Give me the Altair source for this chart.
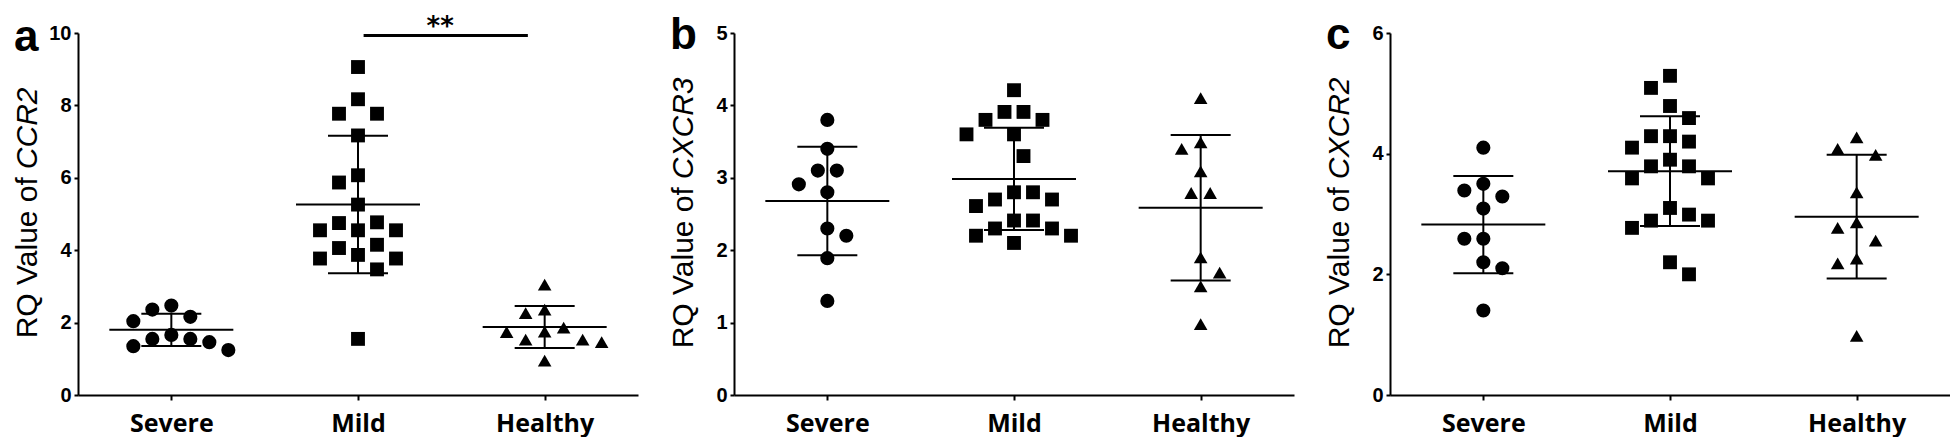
import altair as alt
import pandas as pd

# ---------------- data ----------------
categories = ["Severe", "Mild", "Healthy"]
shapes = ["circle", "square", "triangle-up"]

ccr2_severe = [2.47, 2.36, 2.16, 2.04, 1.66, 1.55, 1.55, 1.46, 1.35, 1.24]
ccr2_mild = [9.06, 8.17, 7.77, 7.77, 7.17, 6.07, 5.87, 5.26, 4.77, 4.75,
             4.55, 4.55, 4.55, 4.15, 4.06, 3.87, 3.77, 3.77, 3.47, 1.55]
ccr2_healthy = [3.05, 2.36, 2.26, 1.86, 1.75, 1.74, 1.53, 1.53, 1.46, 0.95]
ccr2_mean = [1.80, 5.26, 1.88]
ccr2_sd = [0.445, 1.90, 0.58]

cxcr3_severe = [3.80, 3.40, 3.10, 3.10, 2.91, 2.80, 2.30, 2.20, 1.89, 1.30]
cxcr3_mild = [4.21, 3.91, 3.91, 3.80, 3.80, 3.60, 3.60, 3.30, 2.80, 2.80,
              2.70, 2.70, 2.61, 2.41, 2.41, 2.30, 2.30, 2.20, 2.20, 2.10]
cxcr3_healthy = [4.10, 3.49, 3.40, 3.09, 2.79, 2.79, 1.90, 1.69, 1.50, 0.98]
cxcr3_mean = [2.68, 2.985, 2.585]
cxcr3_sd = [0.75, 0.705, 1.005]

cxcr2_severe = [4.10, 3.50, 3.39, 3.29, 3.09, 2.59, 2.59, 2.20, 2.10, 1.40]
cxcr2_mild = [5.29, 5.09, 4.79, 4.59, 4.29, 4.29, 4.20, 4.10, 3.90, 3.79,
              3.79, 3.59, 3.59, 3.10, 2.99, 2.89, 2.89, 2.77, 2.20, 2.00]
cxcr2_healthy = [4.27, 4.08, 3.98, 3.36, 2.86, 2.77, 2.56, 2.26, 2.18, 0.98]
cxcr2_mean = [2.825, 3.71, 2.955]
cxcr2_sd = [0.805, 0.91, 1.025]

sig_text = "**"

# ---------------- layout / style ----------------
W, H = 560, 362
SPACING = 96
BLACK = "#000000"
MARK_SIZES = [200, 185, 215]
SIG = dict(x1=2.03, x2=2.91, y=9.93, xt=2.44)
LETTER_X = -64
TITLE_X = -41

ARIAL = {"R": .722, "Q": .778, " ": .278, "V": .667, "a": .556, "l": .222,
         "u": .556, "e": .556, "o": .556, "f": .278, "C": .722, "X": .667,
         "2": .556, "3": .556}


def text_w(s, size):
    return sum(ARIAL.get(ch, .556) for ch in s) * size


def swarm(values, px_per_unit, sx=19.0, sy=22.0, step=9.5):
    order = sorted(range(len(values)), key=lambda i: -values[i])
    placed = []
    offs = [0.0] * len(values)
    for i in order:
        y = values[i] * px_per_unit
        bal = sum(p[0] for p in placed)
        cands = [0.0]
        for m in range(1, 40):
            pair = [-m * step, m * step]
            if bal < 0:
                pair.reverse()
            cands += pair
        chosen = cands[-1]
        for dx in cands:
            if all(((dx - px) / sx) ** 2 + ((y - py) / sy) ** 2 >= 1.0 for px, py in placed):
                chosen = dx
                break
        placed.append((chosen, y))
        offs[i] = chosen
    return offs


def panel(letter, gene, ymax, ystep, groups, means, sds, letter_y, sig=False):
    pxu_y = H / ymax
    pxu_x = W / 3.0
    rows = []
    for gi, (cat, vals) in enumerate(zip(categories, groups)):
        offs = swarm(vals, pxu_y)
        for v, o in zip(vals, offs):
            rows.append({"cat": cat, "x": gi + 1 + o / pxu_x, "v": v})
    pts = pd.DataFrame(rows)

    stats = pd.DataFrame({
        "cat": categories,
        "x": [1, 2, 3],
        "mean": means,
        "lo": [m - s for m, s in zip(means, sds)],
        "hi": [m + s for m, s in zip(means, sds)],
    })
    caps = pd.concat([
        stats[["x", "lo"]].rename(columns={"lo": "v"}),
        stats[["x", "hi"]].rename(columns={"hi": "v"}),
    ])

    label_expr = "[" + ",".join(["''"] + ["'%s'" % c for c in categories]) + "][datum.value]"
    xaxis = alt.Axis(values=[1, 2, 3], labelExpr=label_expr, title=None, grid=False,
                     tickSize=5, tickWidth=2, tickColor=BLACK, domainWidth=2,
                     domainColor=BLACK, labelFont="Open Sans", labelFontWeight="bold",
                     labelFontSize=25, labelColor=BLACK, labelPadding=11, labelAngle=0,
                     labelFlush=False)
    yaxis = alt.Axis(values=list(range(0, ymax + 1, ystep)), title=None, grid=False,
                     tickSize=4, tickWidth=2, tickColor=BLACK, domainWidth=2,
                     domainColor=BLACK, labelFont="Liberation Sans", labelFontWeight="bold",
                     labelFontSize=20, labelColor=BLACK, labelPadding=3)
    xs = alt.Scale(domain=[0.5, 3.5], nice=False, zero=False)
    ys = alt.Scale(domain=[0, ymax], nice=False)

    def X(f):
        return alt.X(f + ":Q", scale=xs, axis=xaxis)

    def Y(f):
        return alt.Y(f + ":Q", scale=ys, axis=yaxis)

    points = alt.Chart(pts).mark_point(filled=True, opacity=1, color=BLACK, strokeWidth=0).encode(
        x=X("x"), y=Y("v"),
        shape=alt.Shape("cat:N", scale=alt.Scale(domain=categories, range=shapes), legend=None),
        size=alt.Size("cat:N", scale=alt.Scale(domain=categories, range=MARK_SIZES), legend=None),
    )
    vline = alt.Chart(stats).mark_rule(color=BLACK, strokeWidth=2).encode(
        x=X("x"), y=Y("lo"), y2="hi:Q")
    mean_t = alt.Chart(stats).mark_tick(orient="horizontal", size=124, thickness=2,
                                         color=BLACK, opacity=1).encode(x=X("x"), y=Y("mean"))
    cap_t = alt.Chart(caps).mark_tick(orient="horizontal", size=60, thickness=2,
                                       color=BLACK, opacity=1).encode(x=X("x"), y=Y("v"))

    # Axis title with italic gene name
    prefix = "RQ Value of"
    fs = 30
    gap = 8
    w1 = text_w(prefix, fs)
    w2 = text_w(gene, fs)
    total = w1 + gap + w2
    center = H / 2.0
    junction = center + total / 2.0 - w1 - gap / 2.0
    t1 = alt.Chart(pd.DataFrame({"t": [prefix]})).mark_text(
        angle=270, align="right", baseline="alphabetic",
        font="Liberation Sans", fontSize=fs, color=BLACK).encode(
        x=alt.value(TITLE_X), y=alt.value(junction + gap / 2.0), text="t:N")
    t2 = alt.Chart(pd.DataFrame({"t": [gene]})).mark_text(
        angle=270, align="left", baseline="alphabetic", font="Liberation Sans",
        fontSize=fs, fontStyle="italic", color=BLACK).encode(
        x=alt.value(TITLE_X), y=alt.value(junction - gap / 2.0), text="t:N")
    lt = alt.Chart(pd.DataFrame({"t": [letter]})).mark_text(
        align="left", baseline="alphabetic", font="Liberation Sans", fontWeight="bold",
        fontSize=44, color=BLACK).encode(x=alt.value(LETTER_X), y=alt.value(letter_y), text="t:N")

    layers = [vline, mean_t, cap_t, points, t1, t2, lt]
    if sig:
        sdf = pd.DataFrame({"x1": [SIG["x1"]], "x2": [SIG["x2"]], "y": [SIG["y"]],
                            "xt": [SIG["xt"]], "t": [sig_text]})
        bar = alt.Chart(sdf).mark_rule(color=BLACK, strokeWidth=3).encode(
            x=X("x1"), x2="x2:Q", y=Y("y"))
        star = alt.Chart(sdf).mark_text(align="center", baseline="alphabetic", dy=-1,
                                        font="DejaVu Sans", fontWeight="bold", fontSize=26,
                                        color=BLACK).encode(x=X("xt"), y=Y("y"), text="t:N")
        layers += [bar, star]
    return alt.layer(*layers).properties(width=W, height=H)


pa = panel("a", "CCR2", 10, 2, [ccr2_severe, ccr2_mild, ccr2_healthy],
           ccr2_mean, ccr2_sd, 18, sig=True)
pb = panel("b", "CXCR3", 5, 1, [cxcr3_severe, cxcr3_mild, cxcr3_healthy],
           cxcr3_mean, cxcr3_sd, 16)
pc = panel("c", "CXCR2", 6, 2, [cxcr2_severe, cxcr2_mild, cxcr2_healthy],
           cxcr2_mean, cxcr2_sd, 16)

chart = alt.hconcat(pa, pb, pc, spacing=SPACING, bounds="flush").configure_view(
    stroke=None).properties(
    padding={"left": 4, "top": 5, "right": 0, "bottom": 1}, background="white")

chart.save("out.html", embed_options={"renderer": "svg", "actions": False})
